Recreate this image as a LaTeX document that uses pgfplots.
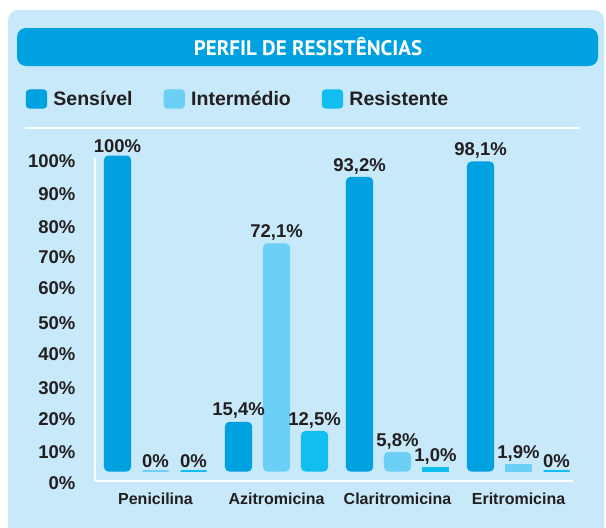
\documentclass[border=0pt]{standalone}
\usepackage{pgfplots}
\pgfplotsset{compat=1.18}
\usepackage{fontspec}
\setmainfont{Liberation Sans}
\newfontfamily\titlefont{PT Sans}
\definecolor{sens}{HTML}{00A1E1}
\definecolor{inter}{HTML}{6CCFF6}
\definecolor{resi}{HTML}{12BEF0}
\definecolor{panel}{HTML}{C7E9F9}
\definecolor{txt}{HTML}{231F20}
\begin{document}
\begin{tikzpicture}
\useasboundingbox (0pt,0pt) rectangle (606pt,-528pt);
\fill[white] (0pt,0pt) rectangle (606pt,-528pt);
\fill[panel, rounded corners=10pt] (8pt,-10pt) rectangle (604pt,-540pt);
\fill[sens, rounded corners=9pt] (17pt,-28pt) rectangle (598pt,-66pt);
\node[font=\titlefont\bfseries\fontsize{21}{24}\selectfont, text=white] at (308pt,-47pt) {PERFIL DE RESISTÊNCIAS};
\draw[white, line width=2pt] (25pt,-128pt) -- (580pt,-128pt);
\begin{axis}[
  at={(95pt,-481pt)}, anchor=south west,
  scale only axis, width=478pt, height=323pt,
  xmin=-0.5, xmax=3.45, ymin=-3.2, ymax=99.4,
  clip=false,
  axis x line=bottom, axis y line=left,
  axis line style={white, line width=2.5pt, -},
  xtick={0,1,2,3},
  xticklabels={Penicilina,Azitromicina,Claritromicina,Eritromicina},
  major x tick style={draw=none},
  extra x ticks={0.5,1.5,2.5},
  extra x tick labels={},
  extra x tick style={xtick align=outside, major tick length=6pt, tick style={white, line width=2.5pt}},
  xticklabel style={font=\fontsize{16}{18}\selectfont\bfseries, text=txt, yshift=-4pt},
  ytick={-3.16,6.64,17.14,26.94,37.74,47.74,58.84,68.64,78.14,88.54,99.04},
  yticklabels={0\%,10\%,20\%,30\%,40\%,50\%,60\%,70\%,80\%,90\%,100\%},
  ytick style={draw=none},
  yticklabel style={font=\fontsize{18.5}{20}\selectfont\bfseries, text=txt, xshift=-14pt, yshift=-2pt},
  ybar, bar width=26pt,
  point meta=explicit symbolic,
  nodes near coords,
  nodes near coords style={font=\fontsize{18.5}{20}\selectfont\bfseries, text=txt, inner sep=3pt},
  legend columns=3,
  legend style={at={(axis description cs:-0.145,1.1827)}, anchor=west, draw=none, fill=none,
    font=\fontsize{19.5}{22}\selectfont\bfseries, text=txt, inner sep=0pt,
    /tikz/every even column/.append style={column sep=29pt}},
  legend image code/.code={\fill[#1, rounded corners=3pt] (0pt,-9pt) rectangle (20pt,9pt);
    \path[draw=none, fill=none] (0pt,0pt) rectangle (25pt,0.1pt);},
]
\addplot[fill=sens, draw=sens, line width=1.2pt, rounded corners=4pt, bar shift=-38pt]
  coordinates {(0,100) [100\%] (1,15.4) [15,4\%] (2,93.2) [93,2\%] (3,98.1) [98,1\%]};
\addlegendentry{Sensível}
\addplot[fill=inter, draw=inter, line width=1.2pt, rounded corners=4pt, bar shift=0pt]
  coordinates {(1,72.1) [72,1\%] (2,5.8) [5,8\%]};
\addlegendentry{Intermédio}
\addplot[fill=resi, draw=resi, line width=1.2pt, rounded corners=4pt, bar shift=38pt]
  coordinates {(1,12.5) [12,5\%]};
\addlegendentry{Resistente}
\addplot[forget plot, fill=inter, draw=inter, line width=1.5pt, bar shift=0pt]
  coordinates {(0,0) [0\%] (3,1.9) [1,9\%]};
\addplot[forget plot, fill=resi, draw=resi, line width=1.5pt, bar shift=38pt]
  coordinates {(0,0) [0\%] (2,1.0) [1,0\%] (3,0) [0\%]};
\end{axis}
\end{tikzpicture}
\end{document}
